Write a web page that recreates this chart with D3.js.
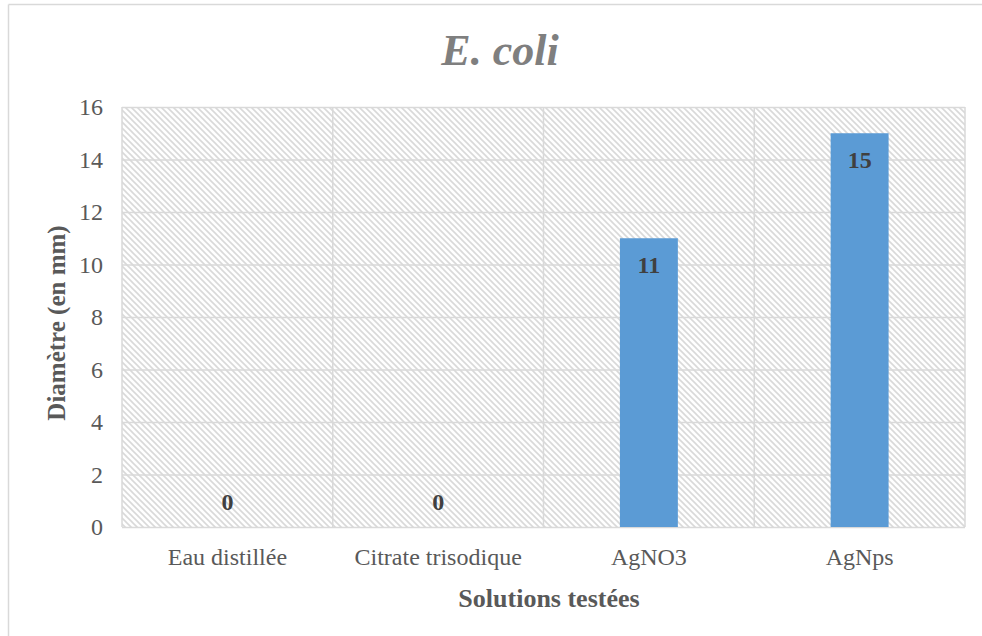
<!DOCTYPE html>
<html><head><meta charset="utf-8">
<script src="https://cdn.jsdelivr.net/npm/d3@7/dist/d3.min.js"></script>
<style>body{margin:0;background:#fff}svg{display:block} text{font-family:"Liberation Serif","Times New Roman",Times,serif}</style>
</head><body>
<script>
const categories = ["Eau distillée", "Citrate trisodique", "AgNO3", "AgNps"];
const values = [0, 0, 11, 15];
const yTicks = [0, 2, 4, 6, 8, 10, 12, 14, 16];
const titleText = "E. coli";
const xTitle = "Solutions testées";
const yTitle = "Diamètre (en mm)";

const W = 982, H = 636;
const m = {left: 122, right: 17, top: 107, bottom: 109};
const svg = d3.select("body").append("svg").attr("width", W).attr("height", H);
const defs = svg.append("defs");
const pat = defs.append("pattern").attr("id","hatch").attr("patternUnits","userSpaceOnUse")
  .attr("width",6).attr("height",6);
pat.append("rect").attr("width",6).attr("height",6).attr("fill","#fff");
pat.append("path").attr("d","M-1,-1 L7,7 M-1,5 L1,7 M5,-1 L7,1").attr("stroke","#d9d9d9").attr("stroke-width",1.6);

svg.append("line").attr("x1",8.5).attr("x2",W).attr("y1",4.5).attr("y2",4.5).attr("stroke","#d9d9d9").attr("stroke-width",1.5);
svg.append("line").attr("x1",8.5).attr("x2",8.5).attr("y1",4.5).attr("y2",H).attr("stroke","#d9d9d9").attr("stroke-width",1.5);

const x = d3.scaleBand().domain(categories).range([m.left, W - m.right]).paddingInner(0.725).paddingOuter(0.3625);
const y = d3.scaleLinear().domain([0,16]).range([H - m.bottom, m.top]);

const x0 = m.left, x1 = W - m.right;
svg.append("rect").attr("x",x0).attr("y",m.top).attr("width",x1-x0).attr("height",H-m.bottom-m.top).attr("fill","url(#hatch)");

svg.append("g").selectAll("line").data(yTicks).join("line")
  .attr("x1",x0).attr("x2",x1).attr("y1",d=>y(d)+0.5).attr("y2",d=>y(d)+0.5)
  .attr("stroke","#d9d9d9").attr("stroke-width",1.5);
const seps = d3.range(categories.length+1).map(i => x0 + i*(x1-x0)/categories.length);
svg.append("g").selectAll("line").data(seps).join("line")
  .attr("x1",d=>d).attr("x2",d=>d).attr("y1",m.top).attr("y2",H-m.bottom)
  .attr("stroke","#d9d9d9").attr("stroke-width",1.5);

const SERIF = "'Liberation Serif', 'Times New Roman', serif";

const yAxis = d3.axisLeft(y).tickValues(yTicks).tickSize(0).tickPadding(19);
const gy = svg.append("g").attr("transform",`translate(${x0},0)`).call(yAxis);
gy.select(".domain").remove();
gy.attr("font-family",null).attr("font-size",null);
gy.selectAll("text").style("font-family",SERIF).style("font-size","24px").attr("fill","#595959");

const xAxis = d3.axisBottom(x).tickSize(0).tickPadding(21);
const gx = svg.append("g").attr("transform",`translate(0,${H-m.bottom})`).call(xAxis);
gx.select(".domain").remove();
gx.attr("font-family",null).attr("font-size",null);
gx.selectAll("text").style("font-family",SERIF).style("font-size","24px").attr("fill","#595959");

svg.append("g").selectAll("rect").data(values).join("rect")
  .attr("x",(d,i)=>x(categories[i])).attr("width",x.bandwidth())
  .attr("y",d=>y(d)).attr("height",d=>y(0)-y(d)).attr("fill","#5b9bd5");

svg.append("g").selectAll("text").data(values).join("text")
  .attr("x",(d,i)=>x(categories[i])+x.bandwidth()/2)
  .attr("y",d=> d>0 ? y(d)+35 : y(d)-17)
  .attr("text-anchor","middle").style("font-family",SERIF).attr("font-weight","bold")
  .style("font-size","24px").attr("fill","#404040").text(d=>d);

svg.append("text").attr("x",500).attr("y",65).attr("text-anchor","middle")
  .style("font-family",SERIF).attr("font-weight","bold").attr("font-style","italic")
  .style("font-size","44px").attr("fill","#7f7f7f").text(titleText);

svg.append("text").attr("x",549).attr("y",607).attr("text-anchor","middle")
  .style("font-family",SERIF).attr("font-weight","bold")
  .style("font-size","26px").attr("fill","#595959").text(xTitle);

svg.append("text").attr("transform",`translate(65,323) rotate(-90)`).attr("text-anchor","middle")
  .style("font-family",SERIF).attr("font-weight","bold")
  .style("font-size","25px").attr("fill","#595959").text(yTitle);
</script>
</body></html>
